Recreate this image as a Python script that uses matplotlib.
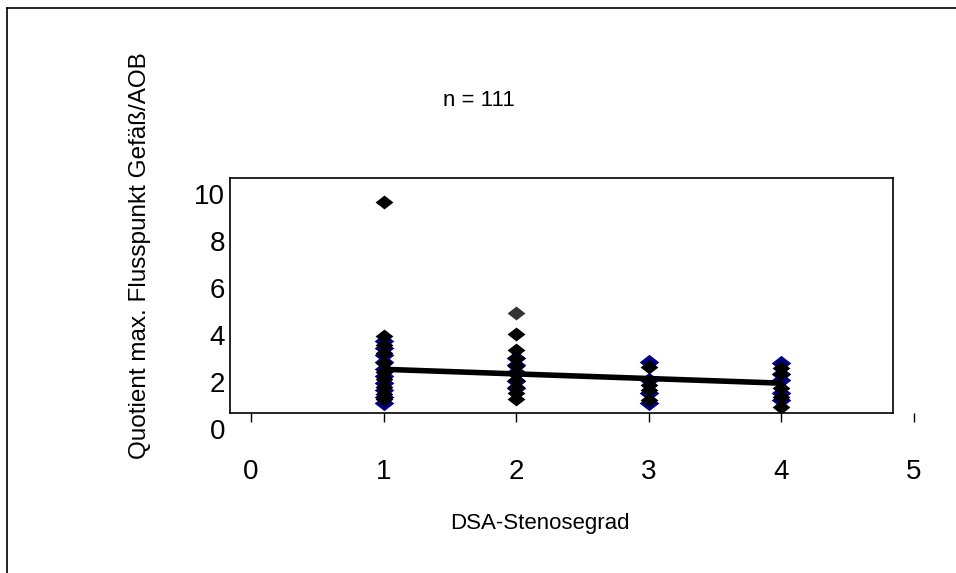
import matplotlib.pyplot as plt
from matplotlib.path import Path
from matplotlib.lines import Line2D

plt.rcParams['font.family'] = ['Liberation Sans', 'DejaVu Sans']

# data
blue_x = [1, 1, 1, 1, 1, 1, 1, 1, 1, 1,
          2, 2, 2, 2, 2,
          3, 3, 3, 3,
          4, 4, 4, 4, 4]
blue_y = [1.05, 1.3, 1.6, 1.9, 2.2, 2.5, 2.8, 3.1, 3.4, 3.7,
          1.7, 2.0, 2.4, 2.7, 3.0,
          1.05, 1.5, 2.05, 2.8,
          1.2, 1.5, 2.04, 2.3, 2.77]
black_x = [1, 1, 1, 1, 1, 1, 1, 1, 1, 1,
           2, 2, 2, 2, 2, 2, 2, 2, 2,
           3, 3, 3, 3,
           4, 4, 4, 4, 4]
black_y = [9.6, 3.9, 3.55, 3.2, 2.75, 2.4, 2.1, 1.75, 1.45, 1.25,
           4.0, 3.3, 3.0, 2.65, 2.3, 2.05, 1.75, 1.5, 1.25,
           1.2, 1.6, 1.85, 2.6,
           0.9, 1.32, 1.7, 2.3, 2.55]
gray_x = [2]
gray_y = [4.9]
trend_x = [1, 4]
trend_y = [2.5, 1.91]
xtick_vals = [0, 1, 2, 3, 4, 5]
ytick_vals = [0, 2, 4, 6, 8, 10]

# flat diamond, wider than tall
diamond = Path([(-1, 0), (0, 0.78), (1, 0), (0, -0.78), (-1, 0)],
               [Path.MOVETO, Path.LINETO, Path.LINETO, Path.LINETO, Path.CLOSEPOLY])

fig = plt.figure(figsize=(9.56, 5.73), dpi=100)
ax = fig.add_axes([230 / 956, 1 - 413 / 573, 663 / 956, 235 / 573])
ax.set_xlim(-0.158, 4.842)
ax.set_ylim(0.64, 10.64)
ax.set_xticks([])
ax.set_yticks([])
for s in ax.spines.values():
    s.set_linewidth(1.2)

ax.scatter(blue_x, blue_y, marker=diamond, s=200, color='#000080', zorder=3, linewidths=0)
ax.scatter(black_x, black_y, marker=diamond, s=165, color='black', zorder=4, linewidths=0)
ax.scatter(gray_x, gray_y, marker=diamond, s=165, color='#333333', zorder=4, linewidths=0)
ax.plot(trend_x, trend_y, color='black', lw=4, zorder=5, solid_capstyle='butt')

# x axis ticks and labels sit below the plot box (Excel style)
ax.vlines(xtick_vals, 0.24, 0.64, color='black', lw=1, clip_on=False)
for v in xtick_vals:
    ax.text(v, -1.85, str(v), ha='center', va='center', fontsize=20, clip_on=False)
for v in ytick_vals:
    ax.text(-0.196, v - 0.15, str(v), ha='right', va='center', fontsize=20, clip_on=False)

fig.text(540 / 956, 1 - 523 / 573, 'DSA-Stenosegrad', ha='center', va='center', fontsize=16)
fig.text(140 / 956, 1 - 256 / 573, 'Quotient max. Flusspunkt Gefäß/AOB',
         rotation=90, ha='center', va='center', fontsize=17.5)
fig.text(479 / 956, 1 - 101 / 573, 'n = 111', ha='center', va='center', fontsize=16)

# outer frame (left and top edge visible)
fig.add_artist(Line2D([7 / 956, 1], [1 - 8 / 573, 1 - 8 / 573], color='black', lw=1.2))
fig.add_artist(Line2D([7 / 956, 7 / 956], [0, 1 - 8 / 573], color='black', lw=1.2))

fig.savefig('out.png', dpi=100)
